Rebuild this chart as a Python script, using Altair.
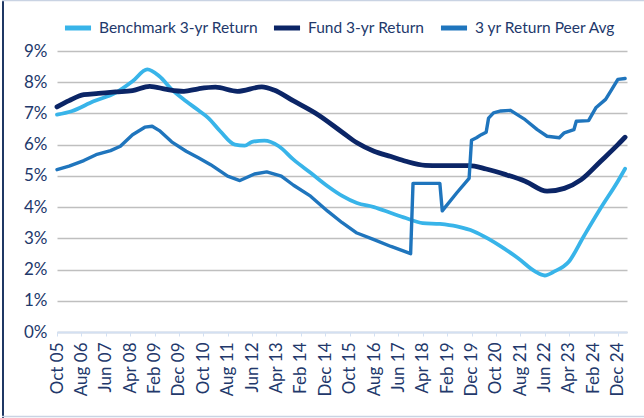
import altair as alt
import pandas as pd

# ---- data (month, value in %) ----
bench_months = ["2005-10", "2006-04", "2007-01", "2007-10", "2008-05", "2008-11", "2009-04",
                "2009-09", "2010-03", "2010-08", "2010-12", "2011-05", "2011-11", "2012-03",
                "2012-06", "2012-11", "2013-05", "2013-11", "2014-06", "2015-01", "2015-07",
                "2016-01", "2016-08", "2017-03", "2017-09", "2018-04", "2018-11", "2019-06",
                "2020-01", "2020-07", "2020-12", "2021-07", "2022-02", "2022-06", "2022-10",
                "2023-04", "2023-10", "2024-05", "2024-12", "2025-03"]
bench_values = [6.96, 7.07, 7.39, 7.66, 8.03, 8.41, 8.19,
                7.77, 7.39, 7.10, 6.86, 6.43, 6.00, 5.97,
                6.09, 6.13, 5.95, 5.52, 5.10, 4.67, 4.36,
                4.13, 4.00, 3.81, 3.65, 3.49, 3.46, 3.38,
                3.22, 2.98, 2.74, 2.37, 1.94, 1.81, 1.94,
                2.26, 3.06, 3.97, 4.83, 5.23]

fund_months = ["2005-10", "2006-03", "2006-09", "2007-03", "2007-10", "2008-05", "2008-12",
               "2009-07", "2010-02", "2010-08", "2011-03", "2011-12", "2012-10", "2013-03",
               "2013-11", "2014-09", "2015-07", "2016-01", "2016-08", "2017-03", "2017-09",
               "2018-05", "2018-11", "2019-11", "2020-06", "2021-02", "2021-10", "2022-07",
               "2023-02", "2023-09", "2024-05", "2024-12", "2025-03"]
fund_values = [7.21, 7.41, 7.60, 7.64, 7.69, 7.73, 7.87,
               7.77, 7.71, 7.79, 7.84, 7.71, 7.85, 7.75,
               7.40, 6.96, 6.40, 6.06, 5.79, 5.62, 5.47,
               5.34, 5.33, 5.33, 5.22, 5.04, 4.83, 4.51,
               4.60, 4.88, 5.47, 6.00, 6.24]

peer_months = ["2005-10", "2006-03", "2006-09", "2007-02", "2007-08", "2007-12", "2008-05",
               "2008-10", "2009-01", "2009-04", "2009-09", "2010-03", "2010-08", "2011-01",
               "2011-08", "2012-01", "2012-07", "2012-12", "2013-06", "2013-11", "2014-06",
               "2015-01", "2015-07", "2016-01", "2016-08", "2017-03", "2017-11", "2017-12",
               "2018-11", "2018-12", "2019-06", "2019-11", "2019-12", "2020-02", "2020-04",
               "2020-06", "2020-07", "2020-09", "2020-12", "2021-04", "2021-10", "2022-03",
               "2022-07", "2022-12", "2023-02", "2023-06", "2023-07", "2023-12", "2024-03",
               "2024-07", "2024-09", "2024-12", "2025-03"]
peer_values = [5.20, 5.31, 5.49, 5.68, 5.81, 5.95, 6.32,
               6.56, 6.59, 6.45, 6.09, 5.79, 5.58, 5.36,
               4.99, 4.85, 5.06, 5.13, 4.99, 4.70, 4.35,
               3.87, 3.50, 3.17, 2.96, 2.74, 2.51, 4.76,
               4.76, 3.88, 4.46, 4.92, 6.14, 6.22, 6.32,
               6.40, 6.85, 7.02, 7.08, 7.10, 6.80, 6.48,
               6.27, 6.22, 6.38, 6.48, 6.75, 6.77, 7.18,
               7.45, 7.71, 8.09, 8.12]

series_names = ["Benchmark 3-yr Return", "Fund 3-yr Return", "3 yr Return Peer Avg"]
series_colors = ["#38B4E9", "#0B2566", "#1F75BD"]
y_ticks = [0, 1, 2, 3, 4, 5, 6, 7, 8, 9]
x_tick_months = ["2005-10", "2006-08", "2007-06", "2008-04", "2009-02", "2009-12", "2010-10",
                 "2011-08", "2012-06", "2013-04", "2014-02", "2014-12", "2015-10", "2016-08",
                 "2017-06", "2018-04", "2019-02", "2019-12", "2020-10", "2021-08", "2022-06",
                 "2023-04", "2024-02", "2024-12"]

rows = []
for name, months, values in zip(series_names,
                                [bench_months, fund_months, peer_months],
                                [bench_values, fund_values, peer_values]):
    for m, v in zip(months, values):
        rows.append({"date": m + "-01", "value": v, "series": name})
df = pd.DataFrame(rows)

TEXT = "#22386B"
FONT = "Lato"


def dt(s, day=1):
    y, m = s.split("-")
    return alt.DateTime(year=int(y), month=int(m), date=day, utc=True)


x_enc = alt.X(
    "date:T",
    scale=alt.Scale(type="utc", domain=[dt("2005-10"), dt("2025-03", 25)]),
    axis=alt.Axis(
        values=[dt(s) for s in x_tick_months],
        format="%b %y",
        labelAngle=-90,
        labelFontSize=17,
        labelFont=FONT,
        labelColor=TEXT,
        labelPadding=6,
        tickColor="#D3E0F2",
        tickSize=4,
        domainColor="#D3E0F2",
        domainWidth=2,
        grid=False,
        title=None,
        labelOverlap=False,
    ),
)
y_enc = alt.Y(
    "value:Q",
    scale=alt.Scale(domain=[0, 9], nice=False),
    axis=alt.Axis(
        values=y_ticks,
        labelExpr="datum.value + '%'",
        labelFontSize=17,
        labelFont=FONT,
        labelColor=TEXT,
        labelPadding=10,
        domain=False,
        ticks=False,
        grid=True,
        gridColor="#BFBFBF",
        gridWidth=1.5,
        title=None,
    ),
)
color_enc = alt.Color(
    "series:N",
    scale=alt.Scale(domain=series_names, range=series_colors),
    sort=series_names,
    legend=alt.Legend(
        title=None,
        orient="none",
        legendX=5,
        legendY=-39,
        direction="horizontal",
        symbolType="stroke",
        symbolStrokeWidth=5,
        symbolSize=680,
        labelFont=FONT,
        labelFontSize=15.5,
        labelColor=TEXT,
        labelOffset=5,
        columnPadding=5,
    ),
)

widths = [3.8, 4.8, 3.4]
interps = ["monotone", "monotone", "linear"]
layers = []
for name, w, ip in zip(series_names, widths, interps):
    layers.append(
        alt.Chart(df)
        .transform_filter(alt.datum.series == name)
        .mark_line(strokeWidth=w, strokeCap="round", strokeJoin="round", interpolate=ip)
        .encode(x=x_enc, y=y_enc, color=color_enc)
    )

frame = alt.Data(values=[{"k": 1}])
left_border = alt.Chart(frame).mark_rule(color="#1F3864", strokeWidth=2).encode(
    x=alt.value(-54), y=alt.value(-51), y2=alt.value(367))
top_border = alt.Chart(frame).mark_rule(color="#C9D3E3", strokeWidth=1.5).encode(
    x=alt.value(-55), x2=alt.value(587), y=alt.value(-50.5))
bottom_border = alt.Chart(frame).mark_rule(color="#C9D3E3", strokeWidth=1.5).encode(
    x=alt.value(-55), x2=alt.value(587), y=alt.value(365.5))

chart = (
    alt.layer(*layers, left_border, top_border, bottom_border)
    .properties(
        width=570,
        height=281,
        autosize=alt.AutoSizeParams(type="none"),
        padding={"left": 57, "top": 51, "right": 17, "bottom": 86},
        background="white",
    )
    .configure_view(stroke=None)
)

chart.save("out.html", embed_options={"renderer": "svg", "actions": False})
